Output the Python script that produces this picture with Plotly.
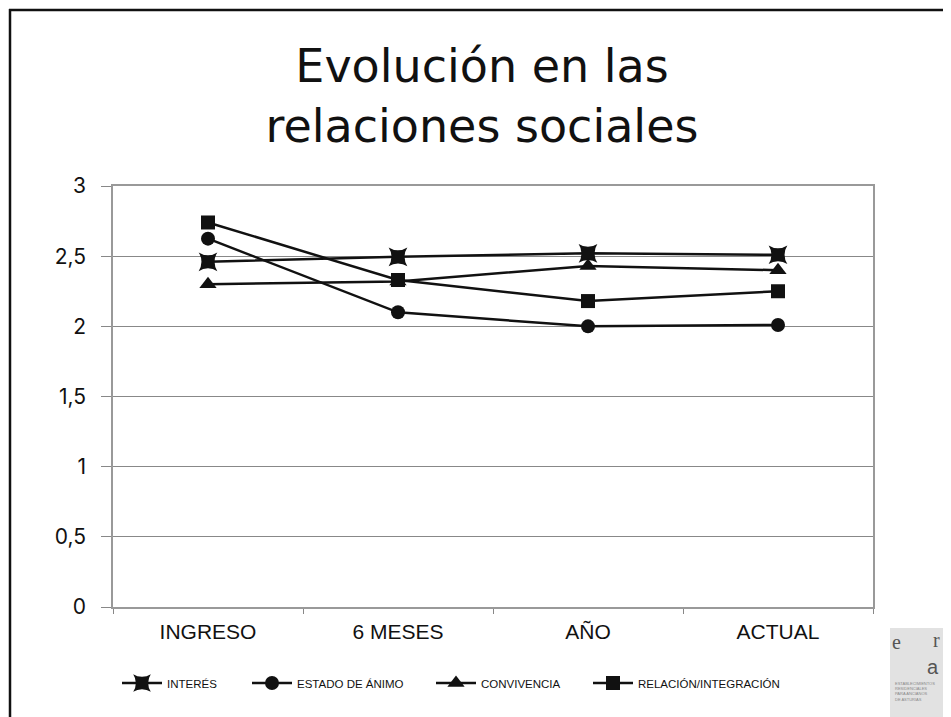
import plotly.graph_objects as go

# Datos
momentos = ["INGRESO", "6 MESES", "AÑO", "ACTUAL"]
interes = [2.46, 2.495, 2.52, 2.51]
estado_animo = [2.625, 2.10, 2.00, 2.01]
convivencia = [2.30, 2.32, 2.43, 2.40]
relacion = [2.74, 2.33, 2.18, 2.25]

series = [
    ("INTERÉS", interes, "star-square", 17, 117),
    ("ESTADO DE ÁNIMO", estado_animo, "circle", 14, 247),
    ("CONVIVENCIA", convivencia, "triangle-up", 15, 431),
    ("RELACIÓN/INTEGRACIÓN", relacion, "square", 14, 588),
]

# la página tiene 8 px de margen; trabajo en píxeles de pantalla
OFF = 8
W, H = 943, 709
L, T = 113 - OFF, 186 - OFF
R, B = W - (873 - OFF), H - (607 - OFF)
pw, ph = W - L - R, H - T - B


def px(x):
    return (x - OFF - L) / pw


def py(y):
    return (H - B - (y - OFF)) / ph


sans = "Liberation Sans, Arial, sans-serif"

fig = go.Figure()
leyendas = {}
for i, (nombre, valores, simbolo, tam, xley) in enumerate(series):
    clave = "legend" if i == 0 else f"legend{i + 1}"
    fig.add_trace(go.Scatter(
        x=momentos, y=valores, name=nombre, mode="lines+markers",
        line=dict(color="#111111", width=2.5),
        marker=dict(symbol=simbolo, size=tam, color="#111111"),
        legend=clave,
    ))
    leyendas[clave] = dict(x=px(xley), y=py(683), xanchor="left", yanchor="middle",
                           font=dict(family=sans, size=11.5, color="#111111"),
                           bgcolor="rgba(0,0,0,0)", itemwidth=40)

# marco de la diapositiva y logotipo
shapes = [
    dict(type="line", xref="paper", yref="paper", x0=px(10), x1=px(10), y0=py(9), y1=py(730),
         line=dict(color="#111111", width=2.5)),
    dict(type="line", xref="paper", yref="paper", x0=px(9), x1=px(960), y0=py(10), y1=py(10),
         line=dict(color="#111111", width=2.5)),
    dict(type="rect", xref="paper", yref="paper", x0=px(890), x1=px(960), y0=py(628), y1=py(730),
         fillcolor="#e2e2e2", line=dict(width=0), layer="below"),
]
logo = dict(xref="paper", yref="paper", showarrow=False)
annotations = [
    dict(text="e", x=px(903), y=py(655), font=dict(family="Liberation Serif", size=20, color="#555555"), **logo),
    dict(text="r", x=px(942), y=py(653), font=dict(family="Liberation Serif", size=20, color="#555555"), **logo),
    dict(text="a", x=px(941), y=py(680), font=dict(family=sans, size=20, color="#555555"), **logo),
    dict(text="ESTABLECIMIENTOS<br>RESIDENCIALES<br>PARA ANCIANOS<br>DE ASTURIAS",
         x=px(893), y=py(704), xanchor="left", align="left",
         font=dict(family=sans, size=4, color="#888888"), **logo),
]

fig.update_layout(
    width=W, height=H,
    margin=dict(l=L, r=R, t=T, b=B),
    paper_bgcolor="white", plot_bgcolor="white",
    separators=", ",
    title=dict(text="Evolución en las<br>relaciones sociales", x=(482 - OFF) / W,
               y=1 - (82 - OFF) / H, xanchor="center", yanchor="middle",
               font=dict(family="DejaVu Sans, " + sans, size=46, color="#111111")),
    xaxis=dict(range=[-0.5, 3.5], tickson="boundaries", ticks="outside", ticklen=5,
               tickcolor="#888888", showline=True, linecolor="#999999", linewidth=1.5,
               mirror=True, showgrid=False, ticklabelstandoff=5,
               tickfont=dict(family=sans, size=21, color="#111111")),
    yaxis=dict(range=[0, 3], dtick=0.5, tickformat=".1~f", ticks="outside", ticklen=10,
               tickcolor="#888888", showline=True, linecolor="#999999", linewidth=1.5,
               mirror=True, gridcolor="#888888", gridwidth=1, zeroline=False,
               ticklabelstandoff=11,
               tickfont=dict(family="Inter, " + sans, size=21, color="#111111")),
    showlegend=True,
    shapes=shapes,
    annotations=annotations,
    **leyendas,
)

fig.write_html("out.html")
